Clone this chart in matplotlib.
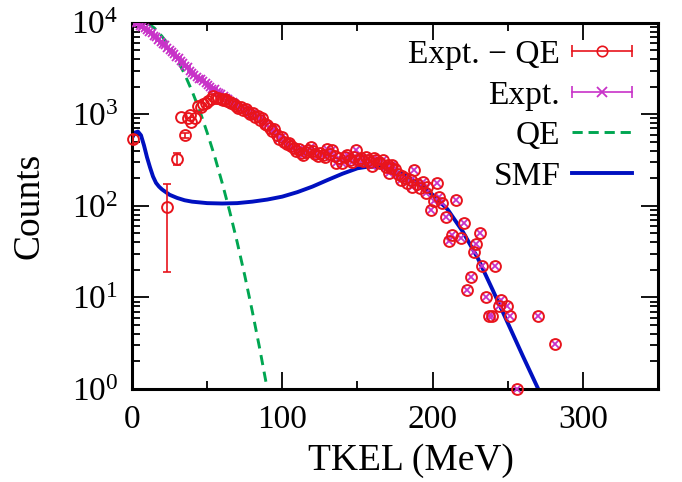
import matplotlib
matplotlib.use("Agg")
import matplotlib.pyplot as plt
from matplotlib.lines import Line2D
from matplotlib.legend_handler import HandlerLine2D, HandlerTuple
from matplotlib.ticker import MultipleLocator, LogLocator, NullFormatter

plt.rcParams['font.family'] = ['Liberation Serif', 'DejaVu Serif']
plt.rcParams['mathtext.fontset'] = 'custom'
plt.rcParams['mathtext.rm'] = 'Liberation Serif'
plt.rcParams['mathtext.it'] = 'Liberation Serif:italic'

# ---------------- data ----------------
# Expt. - QE (red circles)
sub_x = [0.7, 23.3, 30.0, 32.9, 35.1, 37.3, 38.4, 39.6, 41.8, 44.0, 45.6, 47.3, 49.0, 50.7,
         52.4, 54.0, 55.7, 57.3, 59.0, 60.5, 61.8, 63.5, 65.0, 66.2, 68.0, 69.5, 70.7,
         72.3, 74.0, 75.6, 77.2, 78.8, 80.4, 82.0, 83.6, 85.2, 86.8, 88.4, 90.0, 91.6, 93.2,
         94.8, 96.4, 98.0, 99.6, 101.2, 102.8, 104.4, 106.0, 107.6, 109.2, 110.8, 112.4,
         114.0, 115.6, 117.2, 118.8, 120.4, 122.0, 123.6, 125.2, 126.8, 128.4, 130.0, 131.6,
         133.2, 134.8, 136.0, 138.0, 139.8, 141.5, 143.1, 145.0, 146.4, 148.0, 149.3, 150.8,
         152.4, 154.0, 155.5, 157.0, 158.5, 159.8, 160.9, 162.5, 164.0, 165.3, 166.8, 168.7,
         170.0, 170.9, 172.0, 173.1, 175.0, 176.8, 178.7, 179.8, 181.5, 183.1, 185.3, 186.4,
         187.6, 189.5, 191.5, 193.5, 195.3, 196.4, 198.7, 201.1, 202.7, 204.5, 206.4, 208.9,
         210.9, 213.1, 215.3, 218.7, 220.9, 223.1, 225.3, 227.6, 229.1, 231.3, 233.1, 235.3,
         237.6, 239.3, 241.3, 244.2, 245.3, 249.8, 251.3, 256.4, 269.8, 281.3]
sub_y = [540, 97, 325, 940, 590, 910, 990, 830, 910, 1230, 1200, 1290, 1310, 1380,
         1450, 1580, 1500, 1510, 1470, 1440, 1450, 1400, 1360, 1320, 1300, 1230, 1170,
         1200, 1120, 1150, 1050, 1000, 1020, 930, 950, 870, 900, 790, 760, 700, 660,
         690, 600, 540, 560, 500, 470, 490, 450, 430, 400, 420, 380,
         360, 390, 410, 440, 400, 370, 350, 380, 360, 340, 420, 370,
         410, 350, 292, 330, 295, 340, 360, 320, 302, 340, 407, 320,
         331, 310, 345, 320, 300, 275, 331, 316, 300, 295, 316, 263,
         280, 229, 260, 282, 251, 224, 191, 209, 200, 178, 191, 162,
         245, 174, 158, 182, 138, 162, 91, 112, 178, 126, 107, 76,
         41, 48, 115, 45, 65, 12, 16.6, 31, 38, 51, 22, 10.2,
         6.2, 6.2, 22, 8.1, 9.3, 8.1, 6.2, 1.0, 6.2, 3.1]

# visible error bars on Expt. - QE
sub_err_x = [0.7, 23.3, 30.0, 35.1]
sub_err_y = [540, 97, 325, 590]
sub_err = [60, 78, 48, 40]

# Expt. (magenta crosses), low-TKEL part where it differs from Expt. - QE
expt_x = [2.5, 4.0, 5.5, 7.0, 8.5, 10.0, 11.5, 13.0, 14.5, 16.0, 17.5, 19.0, 20.5, 22.0,
          23.5, 25.0, 26.5, 28.0, 29.5, 31.0, 32.5, 34.0, 35.5, 37.0, 38.5, 40.0, 41.5,
          43.0, 44.5, 46.0, 47.5, 49.0, 50.5, 52.0, 53.5, 55.0, 56.5, 58.0, 59.5, 61.0,
          62.5, 64.0, 65.5, 67.0, 68.5, 70.0]
expt_y = [9950, 9800, 9300, 8950, 8650, 8350, 7900, 7650, 7200, 6950, 6400, 6200, 5850,
          5650, 5350, 5050, 4750, 4600, 4250, 4100, 3780, 3650, 3380, 3250, 3000, 2830,
          2680, 2580, 2440, 2410, 2280, 2200, 2080, 2000, 1900, 1870, 1770, 1710, 1650,
          1590, 1510, 1450, 1410, 1350, 1290, 1235]
expt_err = [250, 245, 235, 225, 215, 210, 200, 190, 180, 175, 160, 155, 145, 140, 135,
            125, 120, 115, 105, 100, 95, 90, 85, 80, 75, 70, 67, 65, 61, 60, 57, 55, 52,
            50, 48, 47, 44, 43, 41, 40, 38, 36, 35, 34, 32, 31]

# QE (green dashed)
qe_x = [0, 5, 10, 15, 20, 25, 30, 35, 40, 45, 50, 55, 60, 65, 70, 75, 80, 85, 90, 95]
qe_y = [11200, 10960, 10000, 8710, 7080, 5500, 3980, 2750, 1780, 1100, 631, 347, 178,
        87, 40, 17.4, 7.1, 2.75, 1.0, 0.35]

# SMF (blue solid)
smf_x = [0, 2, 4, 6, 8, 10, 12, 14, 16, 18, 20, 25, 30, 35, 40, 50, 60, 70, 80, 90, 100,
         110, 120, 130, 140, 150, 158, 165, 170, 180, 190, 200, 210, 220, 230, 240, 250,
         260, 270, 275]
smf_y = [550, 631, 646, 589, 457, 339, 263, 209, 178, 162, 151, 132, 122, 115, 111, 107,
         106, 107, 111, 117, 126, 141, 162, 191, 224, 257, 269, 263, 251, 224, 178, 132,
         91.2, 52.5, 26.9, 12.0, 5.25, 2.29, 1.02, 0.68]

labels = ["Expt. \u2212 QE", "Expt.", "QE", "SMF"]

# ---------------- style ----------------
RED = '#e8141c'
MAG = '#c832c8'
GREEN = '#00a651'
BLUE = '#0010c0'

fig = plt.figure(figsize=(6.82, 4.82), dpi=100)
ax = fig.add_axes([0.1935, 0.193, 0.7715, 0.760])

# Expt. (magenta)
ax.errorbar(expt_x, expt_y, yerr=expt_err, fmt='x', color=MAG, ms=6, mew=1.3,
            elinewidth=1.0, capsize=2.5, capthick=1.0, zorder=3)
n_lo = sum(1 for v in sub_x if v <= 70.7)
ax.plot(sub_x[n_lo:], sub_y[n_lo:], 'x', color=MAG, ms=5.5, mew=1.3, zorder=3,
        clip_on=False)

# Expt. - QE (red)
ax.errorbar(sub_err_x, sub_err_y, yerr=sub_err, fmt='none', ecolor=RED, elinewidth=1.2,
            capsize=3, capthick=1.2, zorder=4)
ax.plot(sub_x, sub_y, 'o', mfc='none', mec=RED, ms=7.8, mew=1.4, zorder=4, clip_on=False)

# QE
ax.plot(qe_x, qe_y, color=GREEN, lw=2.1, ls=(0, (3.5, 2.3)), zorder=2)
# SMF
ax.plot(smf_x, smf_y, color=BLUE, lw=2.8, zorder=2)

ax.set_yscale('log')
ax.set_xlim(0, 350)
ax.set_ylim(1, 1e4)
ax.xaxis.set_major_locator(MultipleLocator(100))
ax.xaxis.set_minor_locator(MultipleLocator(50))
ax.yaxis.set_major_locator(LogLocator(base=10, numticks=10))
ax.yaxis.set_minor_locator(LogLocator(base=10, subs=range(2, 10), numticks=20))
ax.yaxis.set_minor_formatter(NullFormatter())

for s in ax.spines.values():
    s.set_linewidth(2.2)
ax.tick_params(which='both', direction='in', top=True, right=True, width=1.3)
ax.tick_params(which='major', length=12, labelsize=24)
ax.tick_params(which='minor', length=6)
ax.tick_params(axis='x', which='major', pad=11)
ax.tick_params(axis='y', which='major', pad=10)

ax.set_xlabel("TKEL (MeV)", fontsize=27, labelpad=6)
ax.xaxis.label.set_x(0.53)
ax.set_ylabel("Counts", fontsize=27, labelpad=18)

# legend
h1l = Line2D([], [], color=RED, lw=1.2, marker='|', ms=8, mew=1.2)
h1m = Line2D([], [], color=RED, marker='o', mfc='none', ms=7.5, mew=1.2, ls='none')
h2l = Line2D([], [], color=MAG, lw=1.2, marker='|', ms=8, mew=1.2)
h2m = Line2D([], [], color=MAG, marker='x', ms=7, mew=1.3, ls='none')
h3 = Line2D([], [], color=GREEN, lw=2.1, ls=(0, (3.5, 2.0)))
h4 = Line2D([], [], color=BLUE, lw=2.8)
ax.legend([(h1l, h1m), (h2l, h2m), h3, h4], labels,
          handler_map={h1l: HandlerLine2D(numpoints=2, marker_pad=0),
                       h2l: HandlerLine2D(numpoints=2, marker_pad=0),
                       tuple: HandlerTuple(ndivide=1)},
          markerfirst=False, frameon=False, loc='upper right',
          bbox_to_anchor=(0.95, 0.954), borderaxespad=0, borderpad=0,
          handlelength=1.8, handletextpad=0.35, labelspacing=0.3, fontsize=24)

fig.savefig('out.png', dpi=100)
